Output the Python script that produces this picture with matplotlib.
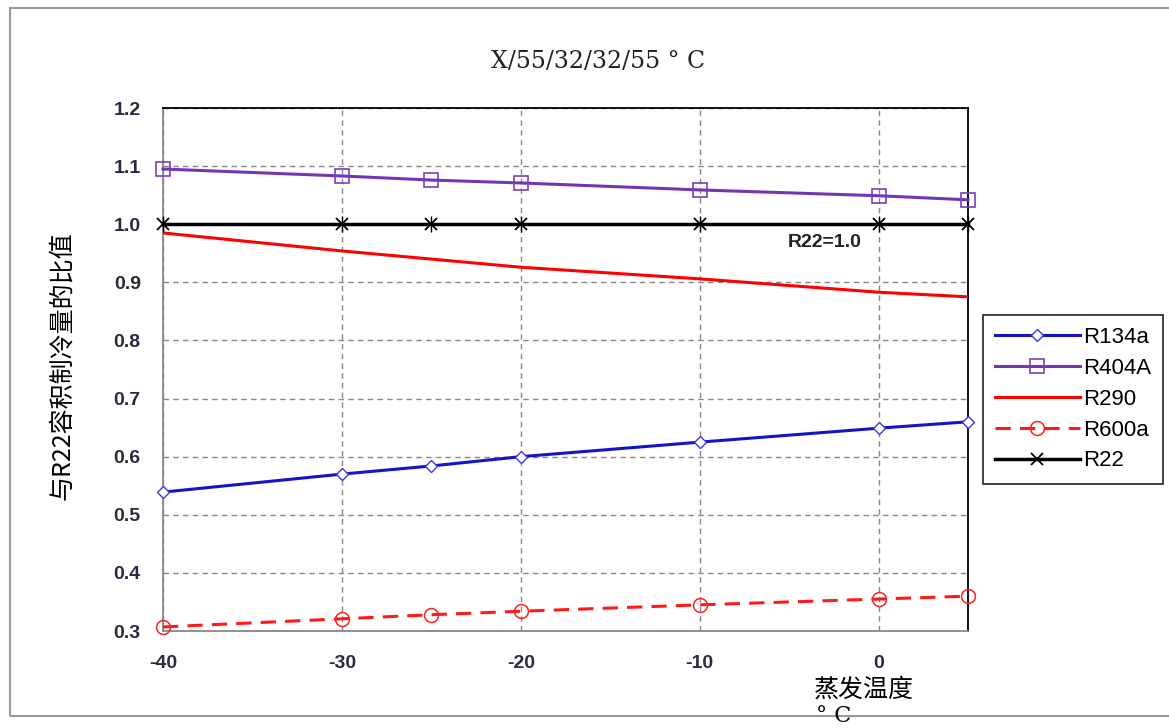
import matplotlib
matplotlib.use("Agg")
import matplotlib.pyplot as plt
from matplotlib.patches import Rectangle

plt.rcParams['font.family'] = ['Liberation Sans', 'Noto Sans CJK SC', 'DejaVu Sans']
plt.rcParams['axes.unicode_minus'] = False

# data
temps = [-40, -30, -25, -20, -10, 0, 5]
r134a = [0.539, 0.570, 0.584, 0.600, 0.625, 0.649, 0.660]
r404a = [1.095, 1.083, 1.076, 1.071, 1.059, 1.049, 1.042]
r290 = [0.985, 0.954, 0.940, 0.926, 0.906, 0.883, 0.875]
r600a = [0.307, 0.321, 0.328, 0.334, 0.345, 0.355, 0.360]
r22 = [1.0, 1.0, 1.0, 1.0, 1.0, 1.0, 1.0]

xticks = [-40, -30, -20, -10, 0]
yticks = [0.3, 0.4, 0.5, 0.6, 0.7, 0.8, 0.9, 1.0, 1.1, 1.2]

fig = plt.figure(figsize=(11.69, 7.28), dpi=100)
ax = fig.add_axes([163 / 1169, 1 - 631 / 728, (968 - 163) / 1169, (631 - 108) / 728])

# outer frame
fig.patches.append(Rectangle((10 / 1169, 1 - 716 / 728), 1.2, (716 - 8) / 728,
                             transform=fig.transFigure, fill=False,
                             edgecolor='#999999', linewidth=1.5))

ax.plot(temps, r134a, color='#1515c8', lw=2.2, marker='D', ms=6.5,
        mfc='white', mec='#3a3ad8', mew=1.0, label='R134a', zorder=3, clip_on=False)
ax.plot(temps, r404a, color='#7535b0', lw=2.2, marker='s', ms=10,
        mfc='none', mec='#7a40b8', mew=1.2, label='R404A', zorder=3, clip_on=False)
ax.plot(temps, r290, color='#ff0000', lw=2.2, label='R290', zorder=3)
ax.plot(temps, r600a, color='#ff1a1a', lw=2.2, ls=(0, (5, 3)), marker='o', ms=10,
        mfc='none', mec='#ff2020', mew=1.1, label='R600a', zorder=3, clip_on=False)
ax.plot(temps, r22, color='black', lw=2.5, marker='x', ms=9, mew=1.3,
        label='R22', zorder=3, clip_on=False)
ax.plot(temps, r22, color='black', lw=0, marker='|', ms=12, mew=1.0, zorder=3,
        clip_on=False)

ax.text(-3.0, 0.968, 'R22=1.0', fontsize=14, fontweight='bold',
        ha='center', va='center', color='#222222')

ax.set_xlim(-40, 5)
ax.set_ylim(0.3, 1.2)
ax.set_xticks(xticks)
ax.set_yticks(yticks)
ax.set_yticklabels([f'{v:.1f}' for v in yticks])
ax.tick_params(length=0, labelsize=14, labelcolor='#2a2a40')
ax.tick_params(axis='y', pad=16)
ax.tick_params(axis='x', pad=17)
for lab in ax.get_xticklabels() + ax.get_yticklabels():
    lab.set_fontweight('bold')
ax.grid(True, color='#888888', ls=(0, (4, 3)), lw=1.0)

ax.spines['left'].set_color('#888888')
ax.spines['bottom'].set_color('#888888')
ax.spines['top'].set_color('black')
ax.spines['right'].set_color('black')
for s in ax.spines.values():
    s.set_linewidth(1.3)

fig.text(598 / 1169, 1 - 61 / 728, 'X/55/32/32/55 ° C', family='DejaVu Serif',
         fontsize=17, ha='center', va='center', color='#222222')
fig.text(62 / 1169, 1 - 366 / 728, '与R22容积制冷量的比值', rotation=90,
         family=['Noto Sans CJK SC'], fontsize=18, ha='center', va='center')
fig.text(814 / 1169, 1 - 690 / 728, '蒸发温度', family=['Noto Sans CJK SC'],
         fontsize=18, ha='left', va='center')
fig.text(816 / 1169, 1 - 716 / 728, '° C', family='DejaVu Serif',
         fontsize=16, ha='left', va='center')

leg = fig.legend(loc='upper left', bbox_to_anchor=(983 / 1169, 1 - 315 / 728),
                 fontsize=16, frameon=True, fancybox=False, handlelength=3.8,
                 handletextpad=0.15, labelspacing=0.44, borderpad=0.55,
                 borderaxespad=0)
leg.get_frame().set_edgecolor('black')
leg.get_frame().set_linewidth(1.3)

fig.savefig('out.png', dpi=100)
